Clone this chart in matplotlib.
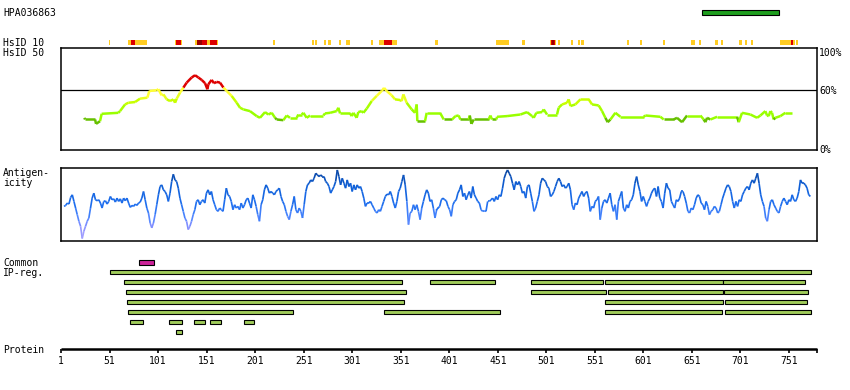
import numpy as np
import matplotlib
matplotlib.use("Agg")
import matplotlib.pyplot as plt
from matplotlib.collections import LineCollection
from matplotlib.colors import ListedColormap, BoundaryNorm, LinearSegmentedColormap, Normalize

# ---------------- data ----------------
protein_id = "HPA036863"
protein_length = 780
tick_residues = [1, 51, 101, 151, 201, 251, 301, 351, 401, 451, 501, 551, 601, 651, 701, 751]

antigen_region = (661, 741)

# HsID 10 stripe: (start, end, level) level 1=low(yellow) 2=high(red) 3=very high(dark red)
hsid10_segments = [
    (50.4, 51.5, 1), (70.0, 72.8, 1), (72.8, 77.2, 2), (77.2, 89.6, 1),
    (118.4, 119.5, 1), (119.5, 124.3, 2), (124.3, 125.3, 1),
    (139.0, 141.1, 1), (141.1, 146.3, 3), (146.3, 151.4, 2), (151.4, 154.5, 1),
    (154.5, 161.7, 2), (161.7, 162.7, 1), (219.1, 221.2, 1), (259.6, 261.3, 1),
    (262.7, 264.7, 1), (271.9, 274.0, 1), (276.1, 279.2, 1), (287.4, 289.2, 1),
    (294.6, 298.7, 1), (320.4, 322.4, 1), (328.6, 333.8, 1), (333.8, 342.0, 2),
    (342.0, 347.1, 1), (386.3, 389.4, 1), (449.1, 462.5, 1), (475.9, 479.0, 1),
    (504.8, 505.8, 1), (505.8, 506.8, 2), (506.8, 508.9, 3), (508.9, 509.9, 2),
    (509.9, 510.9, 1), (513.0, 515.0, 1), (526.4, 528.4, 1), (533.6, 535.7, 1),
    (536.7, 539.8, 1), (584.1, 586.2, 1), (597.5, 599.6, 1), (621.2, 623.2, 1),
    (650.0, 654.1, 1), (658.3, 660.3, 1), (674.7, 677.8, 1), (680.9, 683.0, 1),
    (699.5, 702.6, 1), (705.7, 707.7, 1), (711.8, 713.8, 1), (741.6, 753.0, 1),
    (753.0, 755.1, 2), (755.1, 757.2, 1), (758.2, 760.3, 1),
]

# HsID 50 identity curve (residue, percent)
hs_res = [25.1, 25.8, 36.1, 37.1, 41.2, 42.9, 60.1, 61.8, 67.0, 70.4, 77.3, 82.4, 90.0, 92.0,
          99.6, 101.3, 104.7, 106.5, 109.9, 113.3, 116.8, 118.5, 120.2, 123.6, 127.1, 130.5,
          135.6, 139.1, 142.5, 145.9, 149.4, 151.8, 152.8, 156.2, 158.6, 161.4, 164.8, 168.3,
          171.7, 176.8, 182.0, 185.4, 188.9, 195.7, 202.6, 206.0, 211.2, 214.6, 218.1, 221.5,
          223.2, 230.1, 233.5, 236.9, 243.8, 245.5, 249.0, 250.7, 254.1, 257.6, 271.3, 273.0,
          278.2, 285.0, 286.7, 288.5, 298.8, 300.5, 302.2, 305.6, 307.3, 310.8, 312.5, 315.9,
          321.1, 326.2, 331.4, 333.8, 336.5, 341.7, 345.1, 350.3, 352.0, 353.7, 357.1, 362.3,
          365.7, 367.4, 368.1, 376.0, 377.7, 391.5, 395.3, 403.9, 407.3, 410.7, 412.4, 421.0,
          422.1, 423.8, 426.2, 441.6, 443.3, 445.1, 449.5, 450.2, 460.5, 474.3, 481.1, 486.3,
          488.0, 490.7, 496.6, 498.3, 501.7, 512.0, 513.7, 517.2, 522.3, 524.0, 525.8, 530.9,
          536.1, 544.6, 548.1, 554.9, 558.4, 561.8, 564.2, 567.0, 572.1, 577.3, 601.3, 603.0,
          618.5, 621.9, 632.2, 635.6, 640.8, 645.9, 659.7, 663.1, 664.8, 666.6, 670.0, 676.9,
          697.5, 699.2, 702.6, 711.2, 718.1, 721.5, 726.6, 728.4, 730.1, 731.8, 733.5, 735.2,
          736.9, 742.1, 747.2, 754.1]
hs_pct = [32.3, 30.6, 30.6, 26.2, 28.9, 36.3, 37.3, 39.0, 45.7, 47.4, 48.1, 51.5, 52.5, 59.2,
          59.9, 61.0, 54.8, 55.8, 50.8, 49.1, 50.8, 47.4, 51.5, 57.5, 62.6, 67.6,
          72.7, 75.0, 72.7, 70.3, 67.0, 60.9, 65.9, 70.3, 67.0, 68.3, 67.6, 62.6,
          59.2, 54.2, 47.4, 42.4, 40.7, 39.0, 34.0, 32.3, 38.0, 35.6, 37.3, 32.3,
          30.6, 29.9, 34.6, 32.3, 32.3, 35.6, 35.6, 37.3, 32.3, 34.6, 34.6, 36.7,
          37.3, 39.0, 42.4, 36.7, 36.7, 34.0, 37.3, 32.3, 38.0, 39.0, 37.3, 41.4,
          49.1, 54.2, 59.2, 62.3, 59.2, 54.8, 50.8, 50.1, 49.1, 55.8, 47.4, 40.7,
          37.3, 45.7, 28.9, 28.9, 37.3, 37.3, 30.6, 30.6, 34.0, 34.6, 30.6, 30.6,
          34.6, 26.2, 30.6, 30.6, 34.6, 30.6, 30.6, 33.3, 34.0, 35.6, 38.0, 34.0,
          32.3, 37.3, 38.0, 40.7, 35.6, 35.6, 42.4, 45.7, 47.4, 50.8, 44.1, 45.7,
          50.8, 50.8, 45.7, 44.7, 39.0, 32.3, 27.9, 30.6, 37.3, 33.3, 33.3, 34.6,
          33.3, 30.6, 30.6, 32.3, 27.9, 34.6, 34.6, 30.6, 27.9, 32.3, 30.6, 33.3,
          33.3, 27.9, 37.3, 35.6, 32.3, 34.6, 39.0, 34.6, 34.0, 39.0, 37.3, 30.6,
          32.3, 34.0, 37.3, 37.3]

# Antigenicity profile, two stretches of evenly read samples
ag_range_1 = (4.1, 388.0)
ag_vals_1 = [101, 104, 111, 108, 128, 136, 116, 96, 76, 56, 41, 4, 26, 41, 56, 66, 96, 126, 141, 121,
             118, 121, 111, 96, 116, 118, 108, 116, 131, 121, 124, 114, 126, 116, 124, 111, 126, 118,
             126, 111, 98, 104, 101, 108, 104, 111, 114, 126, 146, 121, 96, 81, 51, 36, 51, 76, 106,
             136, 161, 166, 151, 146, 136, 116, 141, 176, 198, 181, 176, 156, 126, 106, 86, 66, 56,
             31, 41, 56, 76, 91, 116, 121, 106, 116, 121, 111, 141, 151, 136, 146, 121, 106, 91, 86,
             96, 91, 86, 121, 156, 136, 131, 116, 91, 106, 96, 101, 91, 111, 96, 106, 121, 126, 111,
             96, 136, 121, 101, 76, 56, 106, 121, 151, 166, 156, 141, 146, 141, 136, 146, 151, 156,
             131, 116, 106, 86, 71, 61, 86, 106, 131, 91, 81, 96, 86, 66, 106, 146, 166, 171, 181,
             176, 186, 201, 196, 191, 196, 191, 191, 176, 171, 161, 141, 151, 161, 176, 211, 191,
             166, 186, 171, 156, 181, 161, 171, 146, 166, 151, 166, 156, 161, 146, 126, 101, 111,
             111, 116, 106, 96, 86, 81, 91, 86, 101, 116, 131, 138, 136, 146, 131, 111, 96, 116,
             146, 156, 176, 196, 166, 116, 46, 81, 86, 106, 91, 106, 86, 61, 96, 116, 136, 151, 141,
             116, 121, 96, 66, 91]
ag_range_2 = (389.4, 773.0)
ag_vals_2 = [96, 101, 121, 126, 121, 118, 101, 91, 71, 106, 116, 121, 141, 151, 166, 131, 141, 121,
             136, 146, 126, 161, 136, 126, 116, 111, 91, 86, 88, 86, 116, 116, 121, 126, 116, 131,
             121, 136, 131, 156, 186, 201, 211, 201, 191, 171, 151, 176, 166, 176, 161, 141, 146,
             126, 161, 166, 141, 116, 86, 96, 116, 136, 171, 186, 181, 176, 161, 156, 131, 136, 146,
             161, 176, 186, 176, 161, 166, 156, 161, 171, 151, 106, 91, 111, 106, 126, 136, 146, 131,
             141, 146, 126, 86, 101, 96, 116, 121, 131, 61, 96, 116, 121, 111, 126, 141, 106, 86,
             106, 61, 116, 131, 146, 96, 86, 106, 96, 116, 121, 136, 171, 191, 166, 146, 116, 131,
             116, 101, 116, 126, 141, 151, 156, 131, 161, 126, 116, 96, 141, 171, 156, 151, 116, 106,
             96, 121, 116, 126, 146, 146, 131, 111, 86, 81, 96, 91, 106, 126, 136, 131, 111, 106, 91,
             116, 101, 76, 86, 91, 101, 96, 81, 86, 106, 126, 141, 156, 166, 161, 146, 116, 96, 116,
             101, 121, 116, 136, 146, 156, 161, 151, 171, 181, 171, 186, 201, 171, 136, 116, 101, 66,
             56, 91, 116, 121, 106, 96, 86, 81, 101, 116, 126, 116, 106, 121, 116, 136, 121, 116,
             126, 146, 181, 171, 171, 166, 156, 136, 131]

common_regions = [(81, 97)]
ipreg_rows = [
    [(51, 774)],
    [(66, 352), (381, 448), (485, 559), (561, 683), (683, 767)],
    [(68, 356), (485, 562), (565, 683), (684, 771)],
    [(69, 354), (561, 683), (685, 770)],
    [(70, 240), (334, 453), (561, 682), (685, 774)],
    [(72, 85), (112, 126), (138, 149), (154, 166), (190, 200)],
    [(119, 126)],
]

# ---------------- layout (pixels) ----------------
W, H = 850, 390
X0, PXR = 61.0, 0.9707           # pixel of residue 1, pixels per residue
FONT = dict(family="DejaVu Sans Mono", size=7, color="black")

fig = plt.figure(figsize=(W / 100, H / 100), dpi=100)
fig.patch.set_facecolor("white")

ax = fig.add_axes([0, 0, 1, 1])
ax.set_xlim(1 - X0 / PXR, 1 + (W - X0) / PXR)
ax.set_ylim(H, 0)
ax.axis("off")

def fig_box(top, bottom):
    left = X0 / W
    width = (protein_length - 1) * PXR / W
    return [left, 1 - bottom / H, width, (bottom - top) / H]

def label(x, y, s, **kw):
    d = dict(FONT); d.update(kw)
    fig.text(x / W, 1 - y / H, s, va="center", ha=d.pop("ha", "left"), **d)

# titles / row labels
label(3, 12.5, protein_id)
label(3, 42.5, "HsID 10")
label(3, 52.5, "HsID 50")
label(3, 172.5, "Antigen-")
label(3, 183.5, "icity")
label(3, 262.5, "Common")
label(3, 273.5, "IP-reg.")
label(3, 350, "Protein")

# antigen region bar
ax.barh(12.5, antigen_region[1] - antigen_region[0], left=antigen_region[0], height=4.4,
        color="#1e9e1e", edgecolor="black", linewidth=0.8)

# HsID 10 stripe
lvl_colors = {1: "#ffcc22", 2: "#dd0000", 3: "#990000"}
for s, e, lv in hsid10_segments:
    ax.barh(42.5, e - s, left=s, height=5, color=lvl_colors[lv], linewidth=0)

# HsID 50 box
axh = fig.add_axes(fig_box(48.3, 150.0))
axh.set_xlim(1, protein_length)
axh.set_ylim(0, 102)
axh.set_xticks([]); axh.set_yticks([])
axh.patch.set_alpha(0)
for sp in axh.spines.values():
    sp.set_linewidth(1.1)
axh.axhline(60, color="black", lw=0.9)
bounds = [0, 31.5, 40, 46, 51, 55, 61.5, 200]
hcols = ["#66c000", "#99ff00", "#aaff00", "#c8ff00", "#e8ff20", "#ffff33", "#dd0000"]
hcmap = ListedColormap(hcols)
hnorm = BoundaryNorm(bounds, hcmap.N)
hx = np.array(hs_res); hy = np.array(hs_pct)
pts = np.column_stack([hx, hy])
segs = np.stack([pts[:-1], pts[1:]], axis=1)
lc = LineCollection(segs, cmap=hcmap, norm=hnorm, linewidths=1.8, capstyle="butt")
lc.set_array((hy[:-1] + hy[1:]) / 2)
axh.add_collection(lc)
for v, y in [("100%", 52.5), ("60%", 90.5), ("0%", 150.5)]:
    label(819, y, v)

# Antigenicity box
axa = fig.add_axes(fig_box(168.3, 240.5))
axa.set_xlim(1, protein_length)
axa.set_ylim(-2, 216)
axa.set_xticks([]); axa.set_yticks([])
axa.patch.set_alpha(0)
for sp in axa.spines.values():
    sp.set_linewidth(1.1)
acmap = LinearSegmentedColormap.from_list(
    "ag", [(0.0, "#b0a8ff"), (0.18, "#8890ff"), (0.33, "#4d86ff"), (0.48, "#1f6ff0"),
           (0.75, "#0f60d8"), (1.0, "#073f96")])
anorm = Normalize(0, 216)
for (r0, r1), vals in [(ag_range_1, ag_vals_1), (ag_range_2, ag_vals_2)]:
    ay = np.array(vals, dtype=float)
    axr = np.linspace(r0, r1, len(ay))
    p = np.column_stack([axr, ay])
    sg = np.stack([p[:-1], p[1:]], axis=1)
    lca = LineCollection(sg, cmap=acmap, norm=anorm, linewidths=1.2, capstyle="butt")
    lca.set_array((ay[:-1] + ay[1:]) / 2)
    axa.add_collection(lca)
# join the two stretches
axa.plot([ag_range_1[1], ag_range_2[0]], [ag_vals_1[-1], ag_vals_2[0]], color="#1f6ff0", lw=1.2)

# Common + IP-reg bars
for s, e in common_regions:
    ax.barh(262.5, e - s, left=s, height=4.4, color="#cc2299", edgecolor="black", linewidth=0.8)
for i, row in enumerate(ipreg_rows):
    yc = 272.3 + 10 * i
    for s, e in row:
        ax.barh(yc, e - s, left=s, height=4.0, color="#a0cc5a", edgecolor="black", linewidth=0.8)

# Protein axis
ax.plot([1, protein_length], [349.2, 349.2], color="black", lw=1.8, solid_capstyle="butt")
ax.vlines(tick_residues + [protein_length], 349.2, 353.3, color="black", lw=1.2)
for t in tick_residues:
    ax.text(t, 361.5, str(t), ha="center", va="center", **FONT)

fig.savefig("out.png", dpi=100, facecolor="white")
